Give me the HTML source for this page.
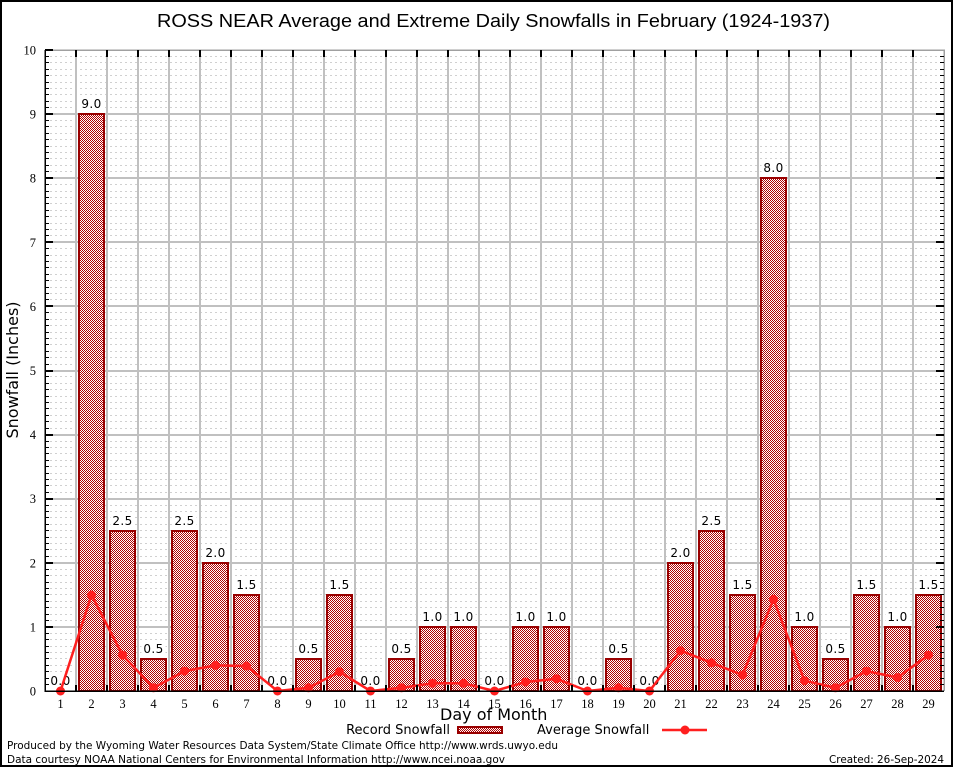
<!DOCTYPE html>
<html><head><meta charset="utf-8"><style>
html,body{margin:0;padding:0;background:#fff;}
svg{display:block;}
.ser{font-family:"Liberation Serif",serif;font-size:12.5px;fill:#000;}
.san{font-family:"DejaVu Sans","Liberation Sans",sans-serif;fill:#000;}
</style></head><body>
<svg width="954" height="768" viewBox="0 0 954 768" xmlns="http://www.w3.org/2000/svg" shape-rendering="crispEdges">
<defs>
<pattern id="chk" patternUnits="userSpaceOnUse" width="2" height="2">
<rect width="2" height="2" fill="#fff"/>
<rect x="0" y="0" width="1" height="1" fill="#b00000"/>
<rect x="1" y="1" width="1" height="1" fill="#b00000"/>
</pattern>
</defs>
<rect x="0" y="0" width="954" height="768" fill="#fff"/>
<rect x="1" y="1" width="951" height="765" fill="none" stroke="#000" stroke-width="2"/>

<text x="493.5" y="27" text-anchor="middle" font-family="Liberation Sans, Arial, sans-serif" font-size="18.7" textLength="673" lengthAdjust="spacingAndGlyphs">ROSS NEAR Average and Extreme Daily Snowfalls in February (1924-1937)</text>

<!-- minor dashed grid -->
<path fill="none" stroke="#d0d0d0" stroke-width="1" stroke-dasharray="2,3" d="M45 684.5H944M45 678.5H944M45 671.5H944M45 665.5H944M45 658.5H944M45 652.5H944M45 646.5H944M45 639.5H944M45 633.5H944M45 620.5H944M45 614.5H944M45 607.5H944M45 601.5H944M45 594.5H944M45 588.5H944M45 582.5H944M45 575.5H944M45 569.5H944M45 556.5H944M45 549.5H944M45 543.5H944M45 537.5H944M45 530.5H944M45 524.5H944M45 517.5H944M45 511.5H944M45 505.5H944M45 492.5H944M45 485.5H944M45 479.5H944M45 473.5H944M45 466.5H944M45 460.5H944M45 453.5H944M45 447.5H944M45 441.5H944M45 428.5H944M45 421.5H944M45 415.5H944M45 408.5H944M45 402.5H944M45 396.5H944M45 389.5H944M45 383.5H944M45 376.5H944M45 364.5H944M45 357.5H944M45 351.5H944M45 344.5H944M45 338.5H944M45 332.5H944M45 325.5H944M45 319.5H944M45 312.5H944M45 299.5H944M45 293.5H944M45 287.5H944M45 280.5H944M45 274.5H944M45 267.5H944M45 261.5H944M45 255.5H944M45 248.5H944M45 235.5H944M45 229.5H944M45 223.5H944M45 216.5H944M45 210.5H944M45 203.5H944M45 197.5H944M45 191.5H944M45 184.5H944M45 171.5H944M45 165.5H944M45 158.5H944M45 152.5H944M45 146.5H944M45 139.5H944M45 133.5H944M45 126.5H944M45 120.5H944M45 107.5H944M45 101.5H944M45 94.5H944M45 88.5H944M45 82.5H944M45 75.5H944M45 69.5H944M45 62.5H944M45 56.5H944"/>
<!-- major grid -->
<path fill="none" stroke="#c0c0c0" stroke-width="2" d="M45 627H944M45 563H944M45 499H944M45 435H944M45 371H944M45 306H944M45 242H944M45 178H944M45 114H944M76 50V691M107 50V691M138 50V691M169 50V691M200 50V691M231 50V691M262 50V691M293 50V691M324 50V691M355 50V691M386 50V691M417 50V691M448 50V691M479 50V691M510 50V691M541 50V691M572 50V691M603 50V691M634 50V691M665 50V691M696 50V691M727 50V691M758 50V691M789 50V691M820 50V691M851 50V691M882 50V691M913 50V691"/>

<!-- bars -->
<g fill="url(#chk)" stroke="#990000" stroke-width="2">
<rect x="79" y="114" width="25" height="577"/>
<rect x="110" y="531" width="25" height="160"/>
<rect x="141" y="659" width="25" height="32"/>
<rect x="172" y="531" width="25" height="160"/>
<rect x="203" y="563" width="25" height="128"/>
<rect x="234" y="595" width="25" height="96"/>
<rect x="296" y="659" width="25" height="32"/>
<rect x="327" y="595" width="25" height="96"/>
<rect x="389" y="659" width="25" height="32"/>
<rect x="420" y="627" width="25" height="64"/>
<rect x="451" y="627" width="25" height="64"/>
<rect x="513" y="627" width="25" height="64"/>
<rect x="544" y="627" width="25" height="64"/>
<rect x="606" y="659" width="25" height="32"/>
<rect x="668" y="563" width="25" height="128"/>
<rect x="699" y="531" width="25" height="160"/>
<rect x="730" y="595" width="25" height="96"/>
<rect x="761" y="178" width="25" height="513"/>
<rect x="792" y="627" width="25" height="64"/>
<rect x="823" y="659" width="25" height="32"/>
<rect x="854" y="595" width="25" height="96"/>
<rect x="885" y="627" width="25" height="64"/>
<rect x="916" y="595" width="25" height="96"/>
</g>

<!-- value labels -->
<g fill="#fff">
<rect x="48.5" y="674" width="24" height="13"/>
<rect x="79.5" y="97.1" width="24" height="13"/>
<rect x="110.5" y="513.75" width="24" height="13"/>
<rect x="141.5" y="641.95" width="24" height="13"/>
<rect x="172.5" y="513.75" width="24" height="13"/>
<rect x="203.5" y="545.8" width="24" height="13"/>
<rect x="234.5" y="577.85" width="24" height="13"/>
<rect x="265.5" y="674" width="24" height="13"/>
<rect x="296.5" y="641.95" width="24" height="13"/>
<rect x="327.5" y="577.85" width="24" height="13"/>
<rect x="358.5" y="674" width="24" height="13"/>
<rect x="389.5" y="641.95" width="24" height="13"/>
<rect x="420.5" y="609.9" width="24" height="13"/>
<rect x="451.5" y="609.9" width="24" height="13"/>
<rect x="482.5" y="674" width="24" height="13"/>
<rect x="513.5" y="609.9" width="24" height="13"/>
<rect x="544.5" y="609.9" width="24" height="13"/>
<rect x="575.5" y="674" width="24" height="13"/>
<rect x="606.5" y="641.95" width="24" height="13"/>
<rect x="637.5" y="674" width="24" height="13"/>
<rect x="668.5" y="545.8" width="24" height="13"/>
<rect x="699.5" y="513.75" width="24" height="13"/>
<rect x="730.5" y="577.85" width="24" height="13"/>
<rect x="761.5" y="161.2" width="24" height="13"/>
<rect x="792.5" y="609.9" width="24" height="13"/>
<rect x="823.5" y="641.95" width="24" height="13"/>
<rect x="854.5" y="577.85" width="24" height="13"/>
<rect x="885.5" y="609.9" width="24" height="13"/>
<rect x="916.5" y="577.85" width="24" height="13"/>
</g>
<g class="san" font-size="12" text-anchor="middle" letter-spacing="0.4" shape-rendering="auto">
<text x="60.5" y="685">0.0</text>
<text x="91.5" y="108.1">9.0</text>
<text x="122.5" y="524.75">2.5</text>
<text x="153.5" y="652.95">0.5</text>
<text x="184.5" y="524.75">2.5</text>
<text x="215.5" y="556.8">2.0</text>
<text x="246.5" y="588.85">1.5</text>
<text x="277.5" y="685">0.0</text>
<text x="308.5" y="652.95">0.5</text>
<text x="339.5" y="588.85">1.5</text>
<text x="370.5" y="685">0.0</text>
<text x="401.5" y="652.95">0.5</text>
<text x="432.5" y="620.9">1.0</text>
<text x="463.5" y="620.9">1.0</text>
<text x="494.5" y="685">0.0</text>
<text x="525.5" y="620.9">1.0</text>
<text x="556.5" y="620.9">1.0</text>
<text x="587.5" y="685">0.0</text>
<text x="618.5" y="652.95">0.5</text>
<text x="649.5" y="685">0.0</text>
<text x="680.5" y="556.8">2.0</text>
<text x="711.5" y="524.75">2.5</text>
<text x="742.5" y="588.85">1.5</text>
<text x="773.5" y="172.2">8.0</text>
<text x="804.5" y="620.9">1.0</text>
<text x="835.5" y="652.95">0.5</text>
<text x="866.5" y="588.85">1.5</text>
<text x="897.5" y="620.9">1.0</text>
<text x="928.5" y="588.85">1.5</text>
</g>

<!-- average line -->
<g shape-rendering="auto">
<polyline fill="none" stroke="#ff1f1f" stroke-width="2.5" stroke-linejoin="round" points="60.5,691 91.5,595 122.5,655.1 153.5,687.8 184.5,671.1 215.5,665.4 246.5,666 277.5,691 308.5,687.8 339.5,671.8 370.5,691 401.5,687.8 432.5,683.3 463.5,683.3 494.5,691 525.5,682 556.5,678.8 587.5,691 618.5,687.8 649.5,691 680.5,650.6 711.5,662.8 742.5,675 773.5,599.3 804.5,680.7 835.5,687.8 866.5,671.1 897.5,677.5 928.5,655.1"/>
<g fill="#ff1f1f">
<circle cx="60.5" cy="691" r="4.5"/><circle cx="91.5" cy="595" r="4.5"/><circle cx="122.5" cy="655.1" r="4.5"/><circle cx="153.5" cy="687.8" r="4.5"/><circle cx="184.5" cy="671.1" r="4.5"/><circle cx="215.5" cy="665.4" r="4.5"/><circle cx="246.5" cy="666" r="4.5"/><circle cx="277.5" cy="691" r="4.5"/><circle cx="308.5" cy="687.8" r="4.5"/><circle cx="339.5" cy="671.8" r="4.5"/><circle cx="370.5" cy="691" r="4.5"/><circle cx="401.5" cy="687.8" r="4.5"/><circle cx="432.5" cy="683.3" r="4.5"/><circle cx="463.5" cy="683.3" r="4.5"/><circle cx="494.5" cy="691" r="4.5"/><circle cx="525.5" cy="682" r="4.5"/><circle cx="556.5" cy="678.8" r="4.5"/><circle cx="587.5" cy="691" r="4.5"/><circle cx="618.5" cy="687.8" r="4.5"/><circle cx="649.5" cy="691" r="4.5"/><circle cx="680.5" cy="650.6" r="4.5"/><circle cx="711.5" cy="662.8" r="4.5"/><circle cx="742.5" cy="675" r="4.5"/><circle cx="773.5" cy="599.3" r="4.5"/><circle cx="804.5" cy="680.7" r="4.5"/><circle cx="835.5" cy="687.8" r="4.5"/><circle cx="866.5" cy="671.1" r="4.5"/><circle cx="897.5" cy="677.5" r="4.5"/><circle cx="928.5" cy="655.1" r="4.5"/>
</g>
</g>

<!-- frame -->
<path fill="none" stroke="#a0a0a0" stroke-width="1.5" d="M45 50H944V691"/>
<path fill="none" stroke="#000" stroke-width="1.5" d="M45 50V691H944"/>
<!-- minor ticks left & right -->
<path fill="none" stroke="#000" stroke-width="1" d="M45 684.5h4M45 678.5h4M45 671.5h4M45 665.5h4M45 658.5h4M45 652.5h4M45 646.5h4M45 639.5h4M45 633.5h4M45 620.5h4M45 614.5h4M45 607.5h4M45 601.5h4M45 594.5h4M45 588.5h4M45 582.5h4M45 575.5h4M45 569.5h4M45 556.5h4M45 549.5h4M45 543.5h4M45 537.5h4M45 530.5h4M45 524.5h4M45 517.5h4M45 511.5h4M45 505.5h4M45 492.5h4M45 485.5h4M45 479.5h4M45 473.5h4M45 466.5h4M45 460.5h4M45 453.5h4M45 447.5h4M45 441.5h4M45 428.5h4M45 421.5h4M45 415.5h4M45 408.5h4M45 402.5h4M45 396.5h4M45 389.5h4M45 383.5h4M45 376.5h4M45 364.5h4M45 357.5h4M45 351.5h4M45 344.5h4M45 338.5h4M45 332.5h4M45 325.5h4M45 319.5h4M45 312.5h4M45 299.5h4M45 293.5h4M45 287.5h4M45 280.5h4M45 274.5h4M45 267.5h4M45 261.5h4M45 255.5h4M45 248.5h4M45 235.5h4M45 229.5h4M45 223.5h4M45 216.5h4M45 210.5h4M45 203.5h4M45 197.5h4M45 191.5h4M45 184.5h4M45 171.5h4M45 165.5h4M45 158.5h4M45 152.5h4M45 146.5h4M45 139.5h4M45 133.5h4M45 126.5h4M45 120.5h4M45 107.5h4M45 101.5h4M45 94.5h4M45 88.5h4M45 82.5h4M45 75.5h4M45 69.5h4M45 62.5h4M45 56.5h4M940 684.5h4M940 678.5h4M940 671.5h4M940 665.5h4M940 658.5h4M940 652.5h4M940 646.5h4M940 639.5h4M940 633.5h4M940 620.5h4M940 614.5h4M940 607.5h4M940 601.5h4M940 594.5h4M940 588.5h4M940 582.5h4M940 575.5h4M940 569.5h4M940 556.5h4M940 549.5h4M940 543.5h4M940 537.5h4M940 530.5h4M940 524.5h4M940 517.5h4M940 511.5h4M940 505.5h4M940 492.5h4M940 485.5h4M940 479.5h4M940 473.5h4M940 466.5h4M940 460.5h4M940 453.5h4M940 447.5h4M940 441.5h4M940 428.5h4M940 421.5h4M940 415.5h4M940 408.5h4M940 402.5h4M940 396.5h4M940 389.5h4M940 383.5h4M940 376.5h4M940 364.5h4M940 357.5h4M940 351.5h4M940 344.5h4M940 338.5h4M940 332.5h4M940 325.5h4M940 319.5h4M940 312.5h4M940 299.5h4M940 293.5h4M940 287.5h4M940 280.5h4M940 274.5h4M940 267.5h4M940 261.5h4M940 255.5h4M940 248.5h4M940 235.5h4M940 229.5h4M940 223.5h4M940 216.5h4M940 210.5h4M940 203.5h4M940 197.5h4M940 191.5h4M940 184.5h4M940 171.5h4M940 165.5h4M940 158.5h4M940 152.5h4M940 146.5h4M940 139.5h4M940 133.5h4M940 126.5h4M940 120.5h4M940 107.5h4M940 101.5h4M940 94.5h4M940 88.5h4M940 82.5h4M940 75.5h4M940 69.5h4M940 62.5h4M940 56.5h4"/>
<!-- major ticks -->
<path fill="none" stroke="#000" stroke-width="2" d="M45 627h8M45 563h8M45 499h8M45 435h8M45 371h8M45 306h8M45 242h8M45 178h8M45 114h8M45 50h8M936 627h8M936 563h8M936 499h8M936 435h8M936 371h8M936 306h8M936 242h8M936 178h8M936 114h8M76 50v7M107 50v7M138 50v7M169 50v7M200 50v7M231 50v7M262 50v7M293 50v7M324 50v7M355 50v7M386 50v7M417 50v7M448 50v7M479 50v7M510 50v7M541 50v7M572 50v7M603 50v7M634 50v7M665 50v7M696 50v7M727 50v7M758 50v7M789 50v7M820 50v7M851 50v7M882 50v7M913 50v7M76 691v-6M107 691v-6M138 691v-6M169 691v-6M200 691v-6M231 691v-6M262 691v-6M293 691v-6M324 691v-6M355 691v-6M386 691v-6M417 691v-6M448 691v-6M479 691v-6M510 691v-6M541 691v-6M572 691v-6M603 691v-6M634 691v-6M665 691v-6M696 691v-6M727 691v-6M758 691v-6M789 691v-6M820 691v-6M851 691v-6M882 691v-6M913 691v-6"/>

<g shape-rendering="auto">
<!-- y tick labels -->
<g class="ser" text-anchor="end">
<text x="36" y="695.5">0</text>
<text x="36" y="631.4">1</text>
<text x="36" y="567.3">2</text>
<text x="36" y="503.2">3</text>
<text x="36" y="439.1">4</text>
<text x="36" y="375">5</text>
<text x="36" y="310.9">6</text>
<text x="36" y="246.8">7</text>
<text x="36" y="182.7">8</text>
<text x="36" y="118.6">9</text>
<text x="36" y="54.5">10</text>
</g>
<!-- x tick labels -->
<g class="ser" text-anchor="middle">
<text x="60.5" y="708">1</text><text x="91.5" y="708">2</text><text x="122.5" y="708">3</text><text x="153.5" y="708">4</text><text x="184.5" y="708">5</text><text x="215.5" y="708">6</text><text x="246.5" y="708">7</text><text x="277.5" y="708">8</text><text x="308.5" y="708">9</text><text x="339.5" y="708">10</text><text x="370.5" y="708">11</text><text x="401.5" y="708">12</text><text x="432.5" y="708">13</text><text x="463.5" y="708">14</text><text x="494.5" y="708">15</text><text x="525.5" y="708">16</text><text x="556.5" y="708">17</text><text x="587.5" y="708">18</text><text x="618.5" y="708">19</text><text x="649.5" y="708">20</text><text x="680.5" y="708">21</text><text x="711.5" y="708">22</text><text x="742.5" y="708">23</text><text x="773.5" y="708">24</text><text x="804.5" y="708">25</text><text x="835.5" y="708">26</text><text x="866.5" y="708">27</text><text x="897.5" y="708">28</text><text x="928.5" y="708">29</text>
</g>

<!-- axis titles -->
<text class="san" x="493.7" y="720" font-size="16" text-anchor="middle">Day of Month</text>
<text class="san" x="0" y="0" font-size="16" text-anchor="middle" transform="translate(18,370) rotate(-90)">Snowfall (Inches)</text>

<!-- legend -->
<text class="san" x="450" y="734" font-size="13" text-anchor="end">Record Snowfall</text>
<text class="san" x="537" y="734" font-size="13">Average Snowfall</text>
<line x1="662" y1="730" x2="707" y2="730" stroke="#ff1f1f" stroke-width="2.5"/>
<circle cx="685" cy="730" r="4.5" fill="#ff1f1f"/>

<!-- footer -->
<text class="san" x="7" y="749" font-size="11" textLength="551" lengthAdjust="spacingAndGlyphs">Produced by the Wyoming Water Resources Data System/State Climate Office http://www.wrds.uwyo.edu</text>
<text class="san" x="7" y="763" font-size="11" textLength="498" lengthAdjust="spacingAndGlyphs">Data courtesy NOAA National Centers for Environmental Information http://www.ncei.noaa.gov</text>
<text class="san" x="944" y="763" font-size="11" text-anchor="end" textLength="115" lengthAdjust="spacingAndGlyphs">Created: 26-Sep-2024</text>
</g>
<rect x="458" y="727" width="44" height="6" fill="url(#chk)" stroke="#990000" stroke-width="2"/>
</svg>
</body></html>
